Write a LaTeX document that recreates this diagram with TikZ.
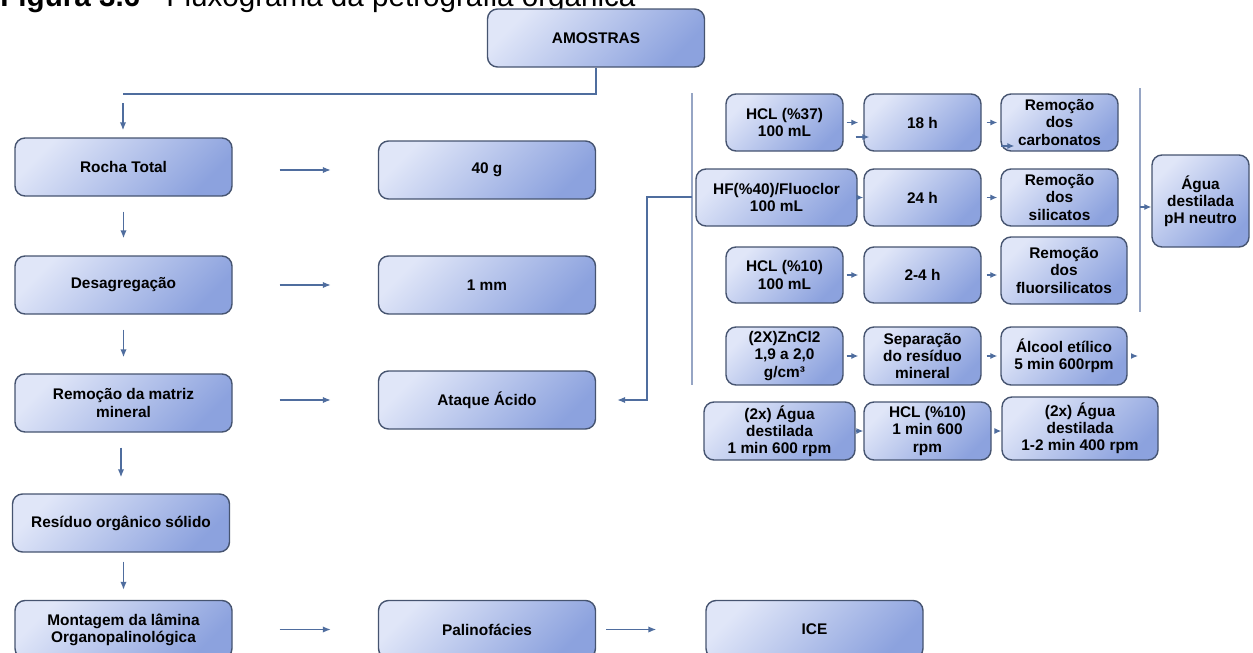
\documentclass[tikz,border=0pt]{standalone}
\usepackage{fontspec}
\setmainfont{Liberation Sans}
\usetikzlibrary{arrows.meta}

\definecolor{boxlight}{RGB}{224,230,248}
\definecolor{boxdark}{RGB}{140,162,222}
\definecolor{boxedge}{RGB}{70,84,112}
\definecolor{arrowblue}{RGB}{79,109,158}
\definecolor{bracketgray}{RGB}{150,165,196}

\tikzset{
  box/.style={draw=boxedge, line width=0.7pt, rounded corners=5pt,
    top color=boxlight, bottom color=boxdark, shading angle=45,
    align=center, inner sep=1pt,
    font=\fontsize{7.7}{8.6}\selectfont\bfseries},
  bigbox/.style={box, minimum width=108.5pt, minimum height=29pt},
  arr/.style={draw=arrowblue, line width=0.7pt, -{Latex[length=4pt,width=3.2pt]}},
  smallarr/.style={draw=arrowblue, line width=0.6pt, -{Latex[length=3.5pt,width=3pt]}},
  link/.style={draw=arrowblue, line width=0.7pt},
  bracket/.style={draw=bracketgray, line width=0.9pt}
}

\begin{document}
\begin{tikzpicture}[x=0.5pt, y=-0.5pt]
        \useasboundingbox (0,0) rectangle (1253,653);
        \clip (0,0) rectangle (1253,653);

        % caption, cut by the top edge
        \node[anchor=base west, inner sep=0pt, font=\fontsize{14.8}{16}\selectfont] (caption) at (0,6)
            {\textbf{Figura 3.6} - Fluxograma da petrografia orgânica};

        % main column
        \node[bigbox] (amostras) at (596,38) {AMOSTRAS};
        \node[bigbox] (rocha) at (123.5,167) {Rocha Total};
        \node[bigbox] (desag) at (123.5,285) {Desagregação};
        \node[bigbox] (remocao) at (123.5,403) {Remoção da matriz\\mineral};
        \node[bigbox] (residuo) at (121,523) {Resíduo orgânico sólido};
        \node[bigbox] (montagem) at (123.5,629.5) {Montagem da lâmina\\Organopalinológica};

        % second column
        \node[bigbox] (quarenta) at (487,170) {40 g};
        \node[bigbox] (ummm) at (487,285) {1 mm};
        \node[bigbox] (ataque) at (487,400) {Ataque Ácido};
        \node[bigbox] (palino) at (487,629.5) {Palinofácies};
        \node[bigbox] (ice) at (814.5,629.5) {ICE};

        % acid attack steps
        \node[box, minimum width=58.5pt, minimum height=28.5pt] (hcla) at (784.5,122.5) {HCL (\%37)\\100 mL};
        \node[box, minimum width=58.5pt, minimum height=28.5pt] (hdezoito) at (922.5,122.5) {18 h};
        \node[box, minimum width=58.5pt, minimum height=28.5pt] (carbonatos) at (1059.5,122.5) {Remoção\\dos\\carbonatos};

        \node[box, minimum width=80.5pt, minimum height=28.5pt] (hf) at (776.5,197.5) {HF(\%40)/Fluoclor\\100 mL};
        \node[box, minimum width=58.5pt, minimum height=28.5pt] (hvinte) at (922.5,197.5) {24 h};
        \node[box, minimum width=58.5pt, minimum height=28.5pt] (silicatos) at (1059.5,197.5) {Remoção\\dos\\silicatos};

        \node[box, minimum width=58.5pt, minimum height=28pt] (hclb) at (784.5,275) {HCL (\%10)\\100 mL};
        \node[box, minimum width=58.5pt, minimum height=28pt] (hdois) at (922.5,275) {2-4 h};
        \node[box, minimum width=63pt, minimum height=33.5pt] (fluor) at (1064,270.5) {Remoção\\dos\\fluorsilicatos};

        \node[box, minimum width=58.5pt, minimum height=29pt] (zncl) at (784.5,356) {(2X)ZnCl2\\1,9 a 2,0\\g/cm³};
        \node[box, minimum width=58.5pt, minimum height=29pt] (separa) at (922.5,356) {Separação\\do resíduo\\mineral};
        \node[box, minimum width=63pt, minimum height=29pt] (alcool) at (1064,356) {Álcool etílico\\5 min 600rpm};

        \node[box, minimum width=75.5pt, minimum height=29pt] (aguaa) at (779.5,431) {(2x) Água\\destilada\\1 min 600 rpm};
        \node[box, minimum width=63.5pt, minimum height=29pt] (hclc) at (927.5,431) {HCL (\%10)\\1 min 600\\rpm};
        \node[box, minimum width=78pt, minimum height=31.5pt] (aguab) at (1080,428.5) {(2x) Água\\destilada\\1-2 min 400 rpm};

        \node[box, minimum width=48.5pt, minimum height=46pt] (neutro) at (1200.5,201) {Água\\destilada\\pH neutro};

        % connectors of the main column
        \coordinate (split) at (123,94);
        \draw[link] (amostras.south) |- (split);
        \draw[arr, shorten <=4.5pt, shorten >=3.5pt] (split) -- (rocha.north -| split);
        \draw[arr, shorten <=7.5pt, shorten >=8.5pt] (rocha) -- (desag);
        \draw[arr, shorten <=7.5pt, shorten >=8pt] (desag) -- (remocao);
        \draw[arr, shorten <=7.5pt, shorten >=8pt] (remocao.south -| residuo) -- (residuo);
        \draw[arr, shorten <=4.5pt, shorten >=5pt] (residuo.south -| montagem) -- (montagem);

        \draw[arr, shorten <=23.5pt, shorten >=23.5pt] (rocha.east |- quarenta) -- (quarenta);
        \draw[arr, shorten <=23.5pt, shorten >=23.5pt] (desag) -- (ummm);
        \draw[arr, shorten <=23.5pt, shorten >=23.5pt] (remocao.east |- ataque) -- (ataque);
        \draw[arr, shorten <=23.5pt, shorten >=23.5pt] (montagem) -- (palino);
        \draw[arr, shorten <=5pt, shorten >=24.5pt] (palino) -- (ice);

        % brackets
        \coordinate (bka) at (692,93);
        \coordinate (bkb) at (692,385);
        \coordinate (bkjoin) at (692,197);
        \draw[bracket] (bka) -- (bkb);
        \draw[arr, shorten >=10.5pt] (bkjoin) -- ++(-45,0) |- (ataque.east);

        \coordinate (bkc) at (1140,88);
        \coordinate (bkd) at (1140,312);
        \coordinate (bkmid) at (1140,207);
        \draw[bracket] (bkc) -- (bkd);
        \draw[smallarr] (bkmid) -- (bkmid -| neutro.west);

        % arrows between the steps
        \draw[smallarr, shorten <=1.5pt, shorten >=2.5pt] (hcla) -- (hdezoito);
        \draw[smallarr] ([shift={(6pt,-7.25pt)}]hcla.east) -- ([shift={(3pt,-7.25pt)}]hdezoito.west);
        \draw[smallarr, shorten <=2.5pt, shorten >=1.5pt] (hdezoito) -- (carbonatos);
        \draw[smallarr] ([shift={(0.5pt,-11.75pt)}]carbonatos.west) -- ([shift={(7pt,-11.75pt)}]carbonatos.west);

        \draw[smallarr] (hf) -- (hvinte);
        \draw[smallarr, shorten <=2.5pt, shorten >=1.5pt] (hvinte) -- (silicatos);

        \draw[smallarr, shorten <=1.5pt, shorten >=2.5pt] (hclb) -- (hdois);
        \draw[smallarr, shorten <=2.5pt, shorten >=1.5pt] (hdois) -- (fluor.west |- hdois);

        \draw[smallarr, shorten <=1.5pt, shorten >=2.5pt] (zncl) -- (separa);
        \draw[smallarr, shorten <=2.5pt, shorten >=1.5pt] (separa) -- (alcool);
        \coordinate (alcoolout) at (1138,356);
        \draw[smallarr, shorten <=2pt] (alcool) -- (alcoolout);

        \draw[smallarr] (aguaa) -- (hclc);
        \draw[smallarr, shorten <=2pt] (hclc) -- (aguab.west |- hclc);
\end{tikzpicture}
\end{document}
